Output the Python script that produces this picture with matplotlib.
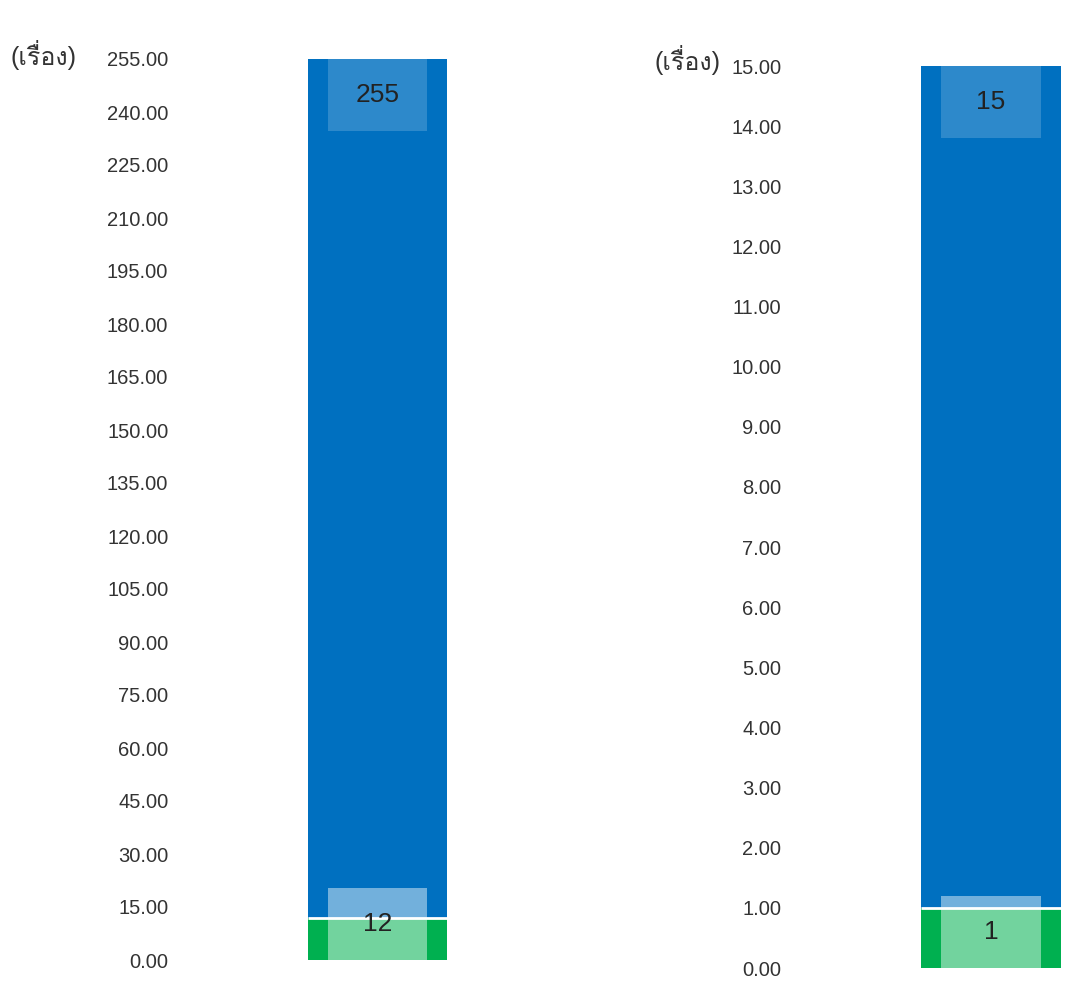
import matplotlib
matplotlib.use('Agg')
import matplotlib.pyplot as plt
from matplotlib import font_manager
from matplotlib.ft2font import FT2Font

# values
unit_label = '(เรื่อง)'
left_total = 255
left_part = 12
left_ticks = [0, 15, 30, 45, 60, 75, 90, 105, 120, 135, 150, 165, 180, 195, 210, 225, 240, 255]
right_total = 15
right_part = 1
right_ticks = list(range(0, 16))

blue = '#0070C0'
green = '#00B050'


# look for any installed font with thai glyphs
def find_thai_font():
    for f in font_manager.fontManager.ttflist:
        try:
            cmap = FT2Font(f.fname).get_charmap()
        except Exception:
            continue
        if 0x0E40 in cmap and 0x0E07 in cmap:
            return f.name
    return None


thai = find_thai_font()
families = ['Liberation Sans', 'DejaVu Sans']
if thai:
    families.insert(1, thai)
plt.rcParams['font.family'] = families

W, H = 1089, 981
fig = plt.figure(figsize=(W / 100, H / 100), dpi=100)


def px_axes(x0, x1, ytop, ybot):
    return fig.add_axes([x0 / W, 1 - ybot / H, (x1 - x0) / W, (ybot - ytop) / H])


def panel(ax, total, part, ticks, label_xy):
    ax.set_xlim(-1, 1)
    ax.set_ylim(0, total)
    bw = 0.7
    ax.bar(0, total, width=bw, color=blue, zorder=1)
    ax.bar(0, part, width=bw, color=green, zorder=2)
    box_h = total * 0.08
    box_w = 0.5
    # label boxes (semi transparent white)
    ax.bar(0, box_h, bottom=total - box_h, width=box_w, color='white', alpha=0.18, zorder=3, linewidth=0)
    ax.bar(0, box_h, bottom=0, width=box_w, color='white', alpha=0.45, zorder=3, linewidth=0)
    # white separator line on top of the green part
    ax.hlines(part, -bw / 2, bw / 2, color='white', linewidth=2, zorder=4)
    ax.text(0, total - box_h / 2, str(total), ha='center', va='center', fontsize=19, color='#222222', zorder=5)
    ax.text(0, box_h / 2, str(part), ha='center', va='center', fontsize=19, color='#222222', zorder=5)
    ax.set_yticks(ticks)
    ax.set_yticklabels(['%.2f' % t for t in ticks])
    ax.tick_params(axis='y', length=0, pad=7, labelsize=14.5, labelcolor='#333333')
    ax.set_xticks([])
    for s in ax.spines.values():
        s.set_visible(False)
    fig.text(label_xy[0] / W, 1 - label_xy[1] / H, unit_label, ha='left', va='center',
             fontsize=18, color='#333333')


ax1 = px_axes(178, 577, 59, 960)
panel(ax1, left_total, left_part, left_ticks, (10, 55))

ax2 = px_axes(791, 1191, 66, 968)
panel(ax2, right_total, right_part, right_ticks, (655, 60))

fig.savefig('out.png', dpi=100)
